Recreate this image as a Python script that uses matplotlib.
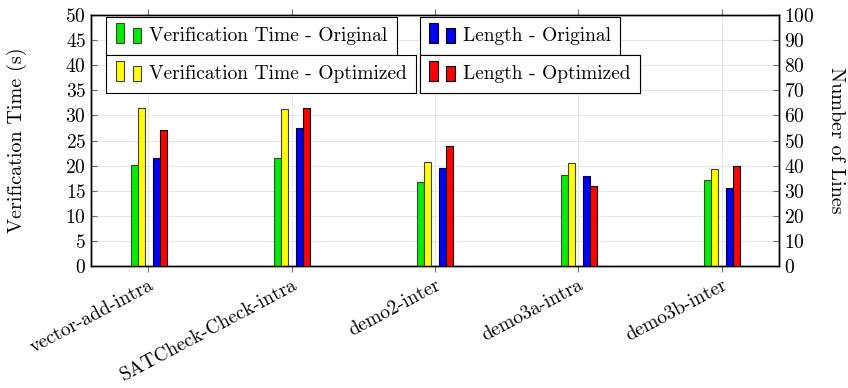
import numpy as np
import matplotlib
matplotlib.use("Agg")
import matplotlib.pyplot as plt
from matplotlib.patches import Rectangle, Patch
from matplotlib.legend_handler import HandlerBase

plt.rcParams['font.family'] = ['cmr10', 'DejaVu Serif']
plt.rcParams['mathtext.fontset'] = 'cm'
plt.rcParams['axes.formatter.use_mathtext'] = True

# data
categories = ["vector-add-intra", "SATCheck-Check-intra", "demo2-inter", "demo3a-intra", "demo3b-inter"]
verif_original = [20.1, 21.5, 16.7, 18.1, 17.1]
verif_optimized = [31.4, 31.3, 20.8, 20.5, 19.3]
length_original = [43, 55, 39, 36, 31]
length_optimized = [54, 63, 48, 32, 40]


class TwoBars(HandlerBase):
    # pgfplots-style ybar legend image: two little bars
    def create_artists(self, legend, orig_handle, xdescent, ydescent,
                       width, height, fontsize, trans):
        fc = orig_handle.get_facecolor()
        ec = orig_handle.get_edgecolor()
        w = width * 0.3
        r1 = Rectangle((-xdescent, -ydescent - 0.15 * height), w, height * 1.45,
                       facecolor=fc, edgecolor=ec, lw=0.8, transform=trans)
        r2 = Rectangle((-xdescent + width * 0.62, -ydescent - 0.15 * height), w, height * 1.1,
                       facecolor=fc, edgecolor=ec, lw=0.8, transform=trans)
        return [r1, r2]


fig = plt.figure(figsize=(8.48, 3.88), dpi=100)
ax = fig.add_axes([0.1073, 0.3144, 0.8113, 0.6469])
ax2 = ax.twinx()

x = np.arange(len(categories))
bw = 0.049
ax.bar(x - 0.098, verif_original, bw, color='#00ee00', edgecolor='#404040', lw=0.8, zorder=3)
ax.bar(x - 0.049, verif_optimized, bw, color='#ffff00', edgecolor='#404040', lw=0.8, zorder=3)
ax2.bar(x + 0.054, length_original, bw, color='#0000ff', edgecolor='black', lw=0.8, zorder=3)
ax2.bar(x + 0.103, length_optimized, bw, color='#ff0000', edgecolor='black', lw=0.8, zorder=3)

ax.set_xlim(-0.4, 4.4)
ax.set_ylim(0, 50)
ax2.set_ylim(0, 100)
ax.set_yticks(np.arange(0, 51, 5))
ax2.set_yticks(np.arange(0, 101, 10))
ax.set_xticks(x)
ax.set_xticklabels(categories, rotation=28, ha='right', rotation_mode='anchor', fontsize=14)

ax.set_axisbelow(True)
ax.grid(True, color='#e6e6e6', lw=0.7)

ax.tick_params(axis='x', direction='out', top=True, length=4, color='0.45', pad=3)
ax.tick_params(axis='y', direction='in', length=4, color='0.4', labelsize=14)
ax2.tick_params(axis='y', direction='in', length=4, color='0.4', labelsize=14)

for a in (ax, ax2):
    for s in a.spines.values():
        s.set_linewidth(1.0)

ax.set_ylabel("Verification Time (s)", fontsize=14.5, labelpad=28)
ax2.set_ylabel("Number of Lines", fontsize=14.5, rotation=-90, labelpad=22)

# four separate legend boxes
entries = [
    (Patch(facecolor='#00ee00', edgecolor='#404040'), "Verification Time - Original", (0.125, 0.956)),
    (Patch(facecolor='#ffff00', edgecolor='#404040'), "Verification Time - Optimized", (0.125, 0.858)),
    (Patch(facecolor='#0000ff', edgecolor='black'), "Length - Original", (0.495, 0.956)),
    (Patch(facecolor='#ff0000', edgecolor='black'), "Length - Optimized", (0.495, 0.858)),
]
for h, lab, pos in entries:
    leg = ax2.legend([h], [lab], loc='upper left', bbox_to_anchor=pos,
                     bbox_transform=fig.transFigure, borderaxespad=0,
                     fancybox=False, edgecolor='black', framealpha=1,
                     fontsize=14, handlelength=1.4, handletextpad=0.3,
                     borderpad=0.5, handler_map={Patch: TwoBars()})
    leg.get_frame().set_linewidth(0.8)
    ax2.add_artist(leg)

fig.savefig("out.png", dpi=100)
